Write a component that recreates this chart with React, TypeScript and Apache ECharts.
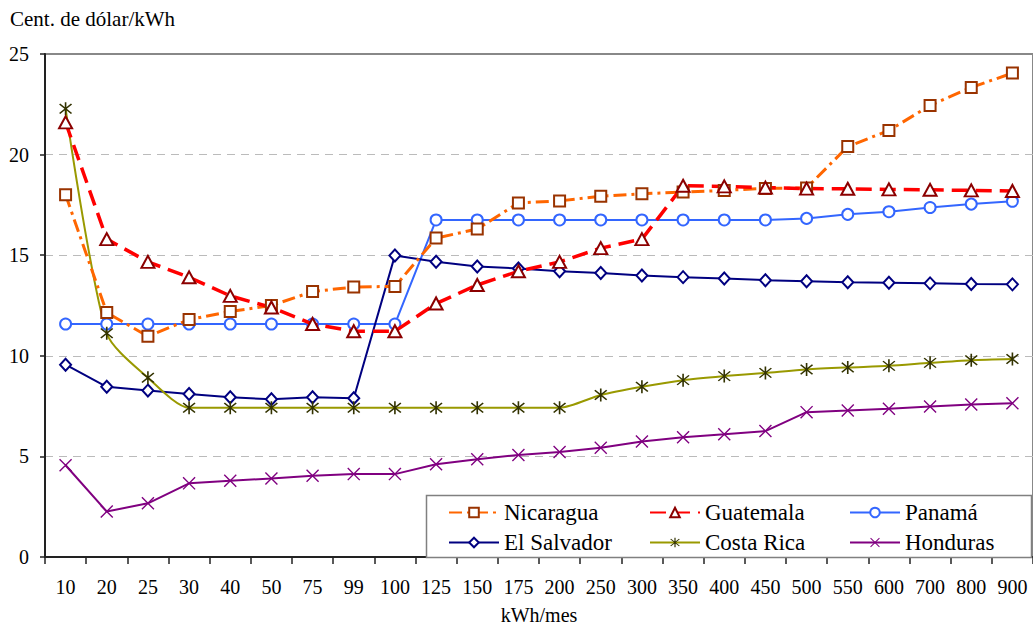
import React, { useEffect, useRef } from "react";
import * as echarts from "echarts";

// Consumption blocks (kWh/mes)
const categories = [
  "10", "20", "25", "30", "40", "50", "75", "99", "100", "125", "150", "175",
  "200", "250", "300", "350", "400", "450", "500", "550", "600", "700", "800", "900",
];

// Average tariff, cents of dollar per kWh
const nicaragua = [
  18.0, 12.15, 10.97, 11.8, 12.2, 12.5, 13.19, 13.42, 13.45, 15.85, 16.3, 17.6,
  17.7, 17.93, 18.05, 18.14, 18.22, 18.32, 18.34, 20.4, 21.2, 22.44, 23.34, 24.05,
];
const guatemala = [
  21.6, 15.8, 14.67, 13.9, 12.98, 12.4, 11.58, 11.22, 11.22, 12.6, 13.52, 14.2,
  14.67, 15.35, 15.8, 18.45, 18.42, 18.36, 18.31, 18.3, 18.27, 18.25, 18.22, 18.19,
];
const panama = [
  11.58, 11.58, 11.58, 11.58, 11.58, 11.58, 11.58, 11.58, 11.58, 16.75, 16.75, 16.75,
  16.75, 16.75, 16.75, 16.75, 16.75, 16.75, 16.83, 17.03, 17.16, 17.37, 17.54, 17.68,
];
const elSalvador = [
  9.56, 8.46, 8.27, 8.1, 7.94, 7.84, 7.94, 7.89, 14.99, 14.67, 14.44, 14.34,
  14.2, 14.12, 13.99, 13.91, 13.84, 13.76, 13.71, 13.66, 13.63, 13.6, 13.57, 13.55,
];
const costaRica = [
  22.28, 11.12, 8.91, 7.42, 7.42, 7.42, 7.42, 7.42, 7.42, 7.42, 7.42, 7.42,
  7.42, 8.05, 8.46, 8.79, 8.99, 9.15, 9.32, 9.42, 9.5, 9.65, 9.78, 9.84,
];
const honduras = [
  4.56, 2.26, 2.67, 3.66, 3.79, 3.9, 4.04, 4.12, 4.12, 4.61, 4.86, 5.07,
  5.22, 5.43, 5.74, 5.95, 6.1, 6.26, 7.2, 7.28, 7.37, 7.48, 7.58, 7.64,
];

const yTicks = { min: 0, max: 25, interval: 5 };

const FONT = "Liberation Serif";

// Asterisk marker: vertical bar plus two diagonals, all wound the same way
const ASTERISK =
  "path://M9,0L11,0L11,20L9,20Z M3.4,2L18,16.6L16.6,18L2,3.4Z M16.6,2L18,3.4L3.4,18L2,16.6Z";
// Cross marker: two diagonals
const CROSS = "path://M3.2,2L18,16.8L16.8,18L2,3.2Z M16.8,2L18,3.2L3.2,18L2,16.8Z";

export default function App() {
  const ref = useRef<HTMLDivElement>(null);

  useEffect(() => {
    if (!ref.current) return;
    const chart = echarts.init(ref.current, undefined, { renderer: "svg" });

    const legendText = { fontFamily: FONT, fontSize: 23, color: "#000", lineHeight: 23 };
    const legendBase = {
      orient: "vertical",
      top: 501,
      padding: 0,
      itemWidth: 50,
      itemHeight: 12,
      itemGap: 7,
      z: 5,
      textStyle: legendText,
    };

    chart.setOption({
      animation: false,
      backgroundColor: "#fff",
      textStyle: { fontFamily: FONT },
      title: {
        text: "Cent. de dólar/kWh",
        left: 10,
        top: 8,
        padding: 0,
        textStyle: { fontFamily: FONT, fontSize: 21, fontWeight: "normal", color: "#000" },
      },
      grid: {
        left: 45,
        top: 54,
        width: 990,
        height: 508,
        show: true,
        borderColor: "#888",
        borderWidth: 2,
        backgroundColor: "transparent",
      },
      legend: [
        { ...legendBase, left: 448, data: ["Nicaragua", "El Salvador"] },
        { ...legendBase, left: 649, data: ["Guatemala", "Costa Rica"] },
        { ...legendBase, left: 849, data: ["Panamá", "Honduras"] },
      ],
      graphic: [
        {
          type: "rect",
          z: 4,
          shape: { x: 426.5, y: 495.5, width: 605, height: 62 },
          style: { fill: "#fff", stroke: "#808080", lineWidth: 1.5 },
        },
      ],
      xAxis: {
        type: "category",
        data: categories,
        boundaryGap: true,
        name: "kWh/mes",
        nameLocation: "middle",
        nameGap: 48,
        nameTextStyle: { fontFamily: FONT, fontSize: 20, color: "#000" },
        axisLine: { lineStyle: { color: "#222", width: 2 } },
        axisTick: { show: true, length: 7, interval: 0, lineStyle: { color: "#222", width: 1.5 } },
        axisLabel: { interval: 0, margin: 20, fontFamily: FONT, fontSize: 20, color: "#000" },
        splitLine: { show: false },
      },
      yAxis: {
        type: "value",
        min: yTicks.min,
        max: yTicks.max,
        interval: yTicks.interval,
        axisLine: { show: true, lineStyle: { color: "#222", width: 2 } },
        axisTick: { show: true, length: 5, lineStyle: { color: "#222", width: 1.5 } },
        axisLabel: { margin: 16, fontFamily: FONT, fontSize: 20, color: "#000" },
        splitLine: {
          show: true,
          showMinLine: false,
          showMaxLine: false,
          lineStyle: { color: "#bbb", width: 1, type: [8, 6] },
        },
      },
      series: [
        {
          name: "Nicaragua",
          type: "line",
          data: nicaragua,
          symbol: "rect",
          symbolSize: 11,
          lineStyle: { color: "#FF6600", width: 3, type: [13, 5, 3, 5] },
          itemStyle: { color: "#fff", borderColor: "#993300", borderWidth: 2 },
          z: 3,
        },
        {
          name: "Guatemala",
          type: "line",
          data: guatemala,
          symbol: "triangle",
          symbolSize: [13, 12],
          lineStyle: { color: "#FF0000", width: 3.5, type: [16, 8] },
          itemStyle: { color: "#fff", borderColor: "#8B0000", borderWidth: 2 },
          z: 3,
        },
        {
          name: "Panamá",
          type: "line",
          data: panama,
          symbol: "circle",
          symbolSize: 11,
          lineStyle: { color: "#3366FF", width: 2 },
          itemStyle: { color: "#fff", borderColor: "#3366FF", borderWidth: 2 },
          z: 2,
        },
        {
          name: "El Salvador",
          type: "line",
          data: elSalvador,
          symbol: "diamond",
          symbolSize: [11, 12],
          lineStyle: { color: "#000080", width: 2 },
          itemStyle: { color: "#fff", borderColor: "#000080", borderWidth: 2 },
          z: 2,
        },
        {
          name: "Costa Rica",
          type: "line",
          data: costaRica,
          smooth: 0.25,
          symbol: ASTERISK,
          symbolSize: 13,
          lineStyle: { color: "#999900", width: 2 },
          itemStyle: { color: "#333300", borderWidth: 0 },
          z: 2,
        },
        {
          name: "Honduras",
          type: "line",
          data: honduras,
          symbol: CROSS,
          symbolSize: 13,
          lineStyle: { color: "#800080", width: 2 },
          itemStyle: { color: "#800080", borderWidth: 0 },
          z: 2,
        },
      ],
    });

    return () => chart.dispose();
  }, []);

  return (
    <div
      ref={ref}
      style={{ position: "fixed", left: 0, top: 0, width: 1033, height: 630, background: "#fff" }}
    />
  );
}
